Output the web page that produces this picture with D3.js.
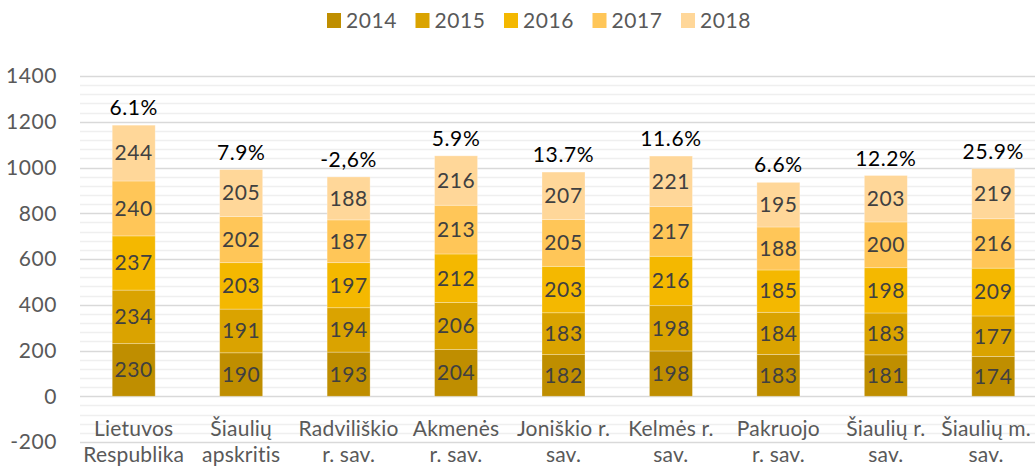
<!DOCTYPE html>
<html>
<head>
<meta charset="utf-8">
<script src="https://cdn.jsdelivr.net/npm/d3@7"></script>
<style>
body { margin:0; background:#fff; }
text { font-family: Lato, "Open Sans", sans-serif; letter-spacing: 0.6px; }
text.cat { letter-spacing: 0.2px; }
</style>
</head>
<body>
<svg id="chart" width="1035" height="466"></svg>
<script>
var categories = [["Lietuvos","Respublika"],["Šiaulių","apskritis"],["Radviliškio","r. sav."],
	["Akmenės","r. sav."],["Joniškio r.","sav."],["Kelmės r.","sav."],["Pakruojo","r. sav."],
	["Šiaulių r.","sav."],["Šiaulių m.","sav."]];
var years = ["2014","2015","2016","2017","2018"];
var v2014 = [230,190,193,204,182,198,183,181,174];
var v2015 = [234,191,194,206,183,198,184,183,177];
var v2016 = [237,203,197,212,203,216,185,198,209];
var v2017 = [240,202,187,213,205,217,188,200,216];
var v2018 = [244,205,188,216,207,221,195,203,219];
var changes = ["6.1%","7.9%","-2,6%","5.9%","13.7%","11.6%","6.6%","12.2%","25.9%"];
var yTicks = [-200,0,200,400,600,800,1000,1200,1400];
var colors = ["#bf8e00","#daa300","#f4b800","#ffc658","#ffd799"];

var series = [v2014, v2015, v2016, v2017, v2018];
var rows = categories.map(function(c, i){
	var r = {name: c.join(" "), idx: i};
	years.forEach(function(y, j){ r[y] = series[j][i]; });
	return r;
});

var svg = d3.select("#chart");
var plotL = 80, plotR = 1047, plotT = 76, plotB = 442;

var x = d3.scaleBand().domain(d3.range(categories.length)).range([plotL, plotR]).paddingInner(0.6).paddingOuter(0.3);
var y = d3.scaleLinear().domain([-200, 1400]).range([plotB, plotT]);

// gridlines, minor every 40 and major every 200
var g = svg.append("g");
g.selectAll("line.minor").data(d3.range(-200, 1401, 40).filter(function(v){ return v % 200 != 0; }))
	.enter().append("line")
	.attr("x1", plotL).attr("x2", 1035)
	.attr("y1", function(d){ return Math.round(y(d)) + 0.5; })
	.attr("y2", function(d){ return Math.round(y(d)) + 0.5; })
	.attr("stroke", "#efefef").attr("stroke-width", 1.5);
g.selectAll("line.major").data(yTicks).enter().append("line")
	.attr("x1", plotL).attr("x2", 1035)
	.attr("y1", function(d){ return Math.round(y(d)) + 0.5; })
	.attr("y2", function(d){ return Math.round(y(d)) + 0.5; })
	.attr("stroke", "#d9d9d9").attr("stroke-width", 1.5);

// y labels
svg.append("g").selectAll("text").data(yTicks).enter().append("text")
	.attr("x", 57).attr("y", function(d){ return y(d); })
	.attr("dy", "0.35em").attr("text-anchor", "end")
	.attr("font-size", 21).attr("fill", "#595959")
	.text(function(d){ return d; });

var stack = d3.stack().keys(years)(rows);

var layers = svg.append("g").selectAll("g").data(stack).enter().append("g")
	.attr("fill", function(d, i){ return colors[i]; });
layers.selectAll("rect").data(function(d){ return d; }).enter().append("rect")
	.attr("x", function(d){ return x(d.data.idx); })
	.attr("width", x.bandwidth())
	.attr("y", function(d){ return y(d[1]); })
	.attr("height", function(d){ return y(d[0]) - y(d[1]); })
	.attr("stroke", "#fff").attr("stroke-opacity", 0.35).attr("stroke-width", 0.8);

layers.selectAll("text").data(function(d){ return d; }).enter().append("text")
	.attr("x", function(d){ return x(d.data.idx) + x.bandwidth()/2; })
	.attr("y", function(d){ return (y(d[0]) + y(d[1]))/2; })
	.attr("dy", "0.35em").attr("text-anchor", "middle")
	.attr("font-size", 21).attr("fill", "#404040")
	.text(function(d){ return d[1] - d[0]; });

// percent labels above bars
var topLayer = stack[stack.length - 1];
svg.append("g").selectAll("text").data(topLayer).enter().append("text")
	.attr("x", function(d){ return x(d.data.idx) + x.bandwidth()/2; })
	.attr("y", function(d){ return y(d[1]) - 10; })
	.attr("text-anchor", "middle").attr("font-size", 21).attr("fill", "#000")
	.text(function(d, i){ return changes[i]; });

// category labels (two lines, second one runs off the bottom like the original)
var cl = svg.append("g").selectAll("text").data(categories).enter().append("text")
	.attr("class", "cat")
	.attr("text-anchor", "middle").attr("font-size", 21).attr("fill", "#595959");
cl.selectAll("tspan").data(function(d, i){ return d.map(function(s){ return {s: s, i: i}; }); })
	.enter().append("tspan")
	.attr("x", function(d){ return x(d.i) + x.bandwidth()/2; })
	.attr("y", function(d, j){ return 436 + j*26; })
	.text(function(d){ return d.s; });
// keep the last label inside the picture
cl.each(function(){
	var bb = this.getBBox();
	var over = bb.x + bb.width - 1031;
	if(over > 0)
		d3.select(this).attr("transform", "translate(" + (-over) + ",0)");
});

// legend
var lg = svg.append("g").selectAll("g").data(years).enter().append("g")
	.attr("transform", function(d, i){ return "translate(" + (327 + i*88.5) + ",13)"; });
lg.append("rect").attr("width", 14).attr("height", 15)
	.attr("fill", function(d, i){ return colors[i]; });
lg.append("text").attr("x", 19).attr("y", 8).attr("dy", "0.35em")
	.attr("font-size", 21).attr("fill", "#595959")
	.text(function(d){ return d; });
</script>
</body>
</html>
